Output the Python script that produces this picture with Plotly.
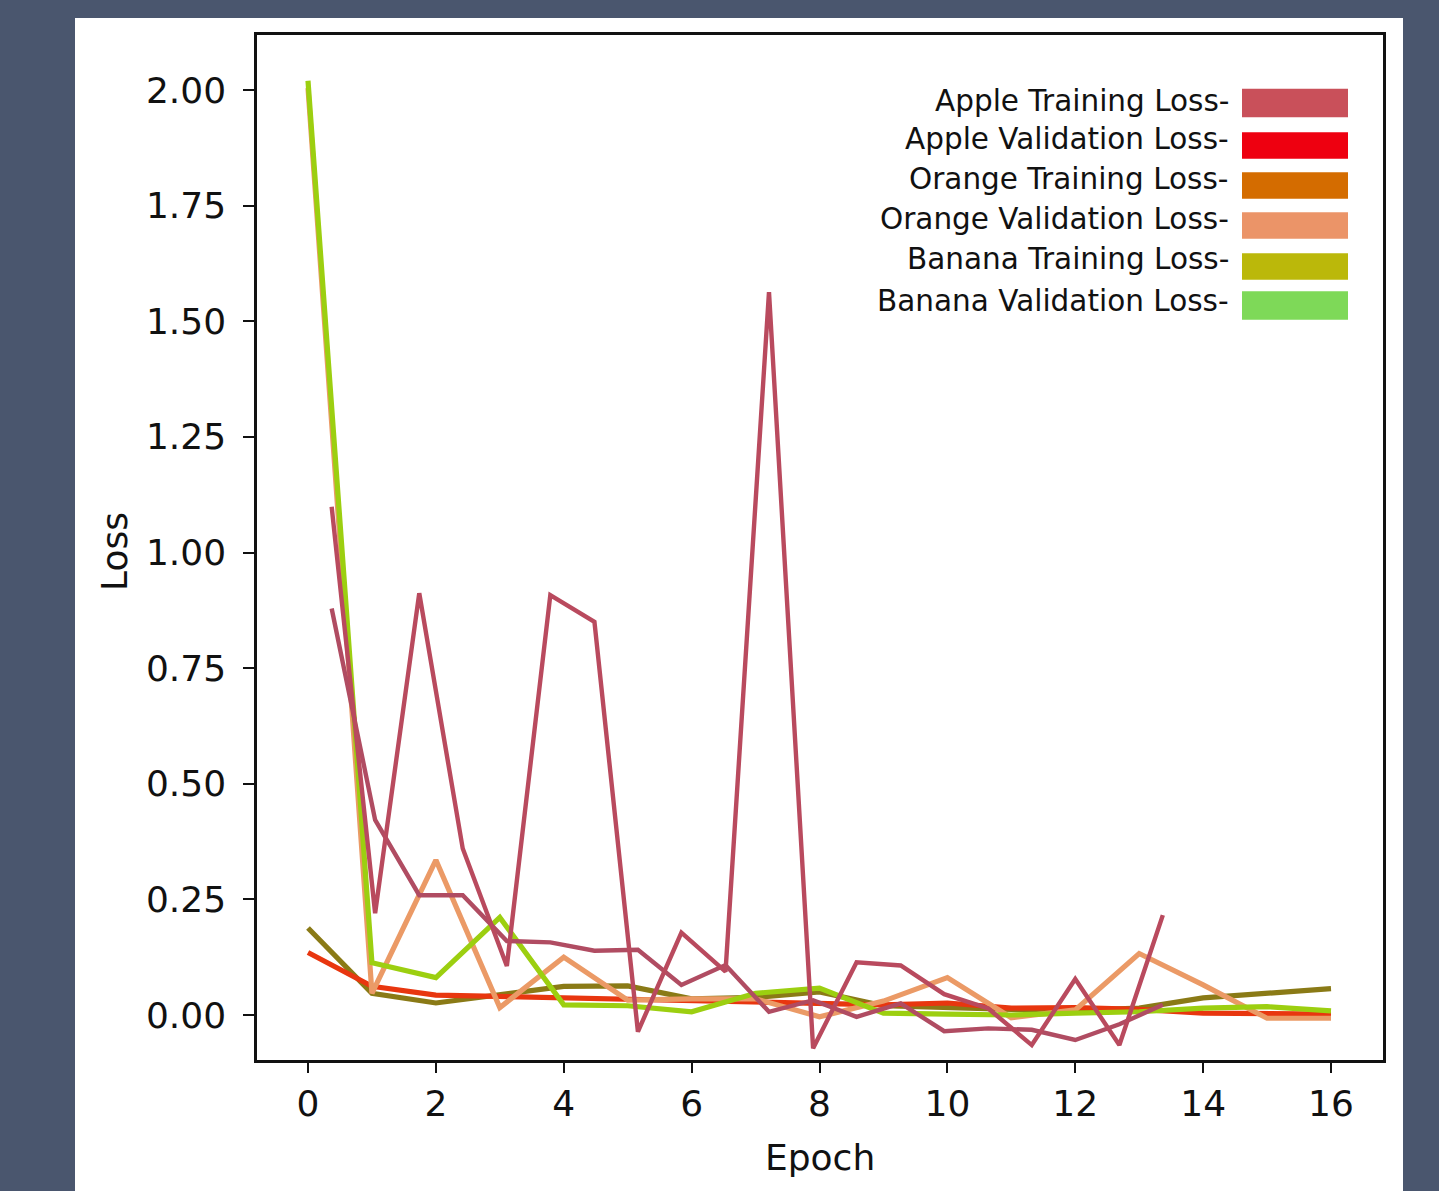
import plotly.graph_objects as go

# ---------------- data ----------------
epochs = [0, 1, 2, 3, 4, 5, 6, 7, 8, 9, 10, 11, 12, 13, 14, 15, 16]

apple_val = [0.135, 0.062, 0.043, 0.040, 0.038, 0.036, 0.033, 0.030, 0.025, 0.022,
             0.026, 0.015, 0.016, 0.012, 0.004, 0.003, 0.002]
banana_train = [0.188, 0.047, 0.026, 0.045, 0.062, 0.063, 0.035, 0.038, 0.050, 0.020,
                0.015, 0.012, 0.010, 0.015, 0.037, 0.047, 0.057]
banana_val = [2.02, 0.113, 0.081, 0.211, 0.022, 0.020, 0.007, 0.047, 0.058, 0.004,
              0.002, 0.000, 0.004, 0.007, 0.015, 0.018, 0.009]
orange_val = [2.004, 0.047, 0.335, 0.016, 0.125, 0.032, 0.035, 0.035, -0.004, 0.030,
              0.081, -0.006, 0.011, 0.133, 0.065, -0.007, -0.007]

train_epochs = [0.37, 1.05, 1.74, 2.42, 3.11, 3.79, 4.48, 5.16, 5.84, 6.53,
                7.21, 7.90, 8.58, 9.27, 9.95, 10.64, 11.32, 12.00, 12.69, 13.37]
apple_train = [1.099, 0.220, 0.912, 0.360, 0.106, 0.908, 0.850, -0.036, 0.178, 0.094,
               1.563, -0.072, 0.114, 0.107, 0.045, 0.014, -0.065, 0.078, -0.065, 0.216]
orange_train = [0.879, 0.422, 0.259, 0.259, 0.160, 0.157, 0.139, 0.141, 0.065, 0.108,
                0.007, 0.032, -0.004, 0.025, -0.035, -0.029, -0.032, -0.054, -0.020, 0.022]

x_ticks = [0, 2, 4, 6, 8, 10, 12, 14, 16]
y_ticks = [0.00, 0.25, 0.50, 0.75, 1.00, 1.25, 1.50, 1.75, 2.00]

legend_labels = ["Apple Training Loss-", "Apple Validation Loss-", "Orange Training Loss-",
                 "Orange Validation Loss-", "Banana Training Loss-", "Banana Validation Loss-"]
legend_colors = ["#c9505a", "#ee0010", "#d46c00", "#eb9468", "#bbb80a", "#7ed958"]

# ---------------- figure ----------------
W, H = 1439, 1191
L, R, T, B = 257, 1439 - 1383, 35, 1191 - 1060
pw, ph = W - L - R, H - T - B

fig = go.Figure()

lw = 5.2
fig.add_trace(go.Scatter(x=epochs, y=banana_train, mode="lines",
                         line=dict(color="#8a7a16", width=lw), showlegend=False))
fig.add_trace(go.Scatter(x=epochs, y=apple_val, mode="lines",
                         line=dict(color="#e8360f", width=lw), showlegend=False))
fig.add_trace(go.Scatter(x=epochs, y=orange_val, mode="lines",
                         line=dict(color="#eb9a66", width=lw), showlegend=False))
fig.add_trace(go.Scatter(x=epochs, y=banana_val, mode="lines",
                         line=dict(color="#9ccf10", width=lw), showlegend=False))
fig.add_trace(go.Scatter(x=train_epochs, y=orange_train, mode="lines",
                         line=dict(color="#b04c62", width=4.4), showlegend=False))
fig.add_trace(go.Scatter(x=train_epochs, y=apple_train, mode="lines",
                         line=dict(color="#b94a5e", width=4.4), showlegend=False))


def px_to_paper_x(px):
    return (px - L) / pw


def px_to_paper_y(py):
    return (H - B - py) / ph


# white panel behind the axes
shapes = [dict(type="rect", xref="paper", yref="paper", layer="below",
               x0=px_to_paper_x(75), x1=px_to_paper_x(1403),
               y0=px_to_paper_y(1195), y1=px_to_paper_y(18),
               fillcolor="white", line=dict(width=0))]

annotations = []
# custom legend
row_centers = [103, 145.5, 185.5, 225.5, 266.5, 305.5]
row_heights = [28.5, 26.5, 26.5, 26.5, 26.5, 28.5]
text_centers = [101, 139, 179, 219, 259, 301]
for lab, col, yc, hh, ty in zip(legend_labels, legend_colors, row_centers, row_heights, text_centers):
    shapes.append(dict(type="rect", xref="paper", yref="paper", layer="above",
                       x0=px_to_paper_x(1242), x1=px_to_paper_x(1348),
                       y0=px_to_paper_y(yc + hh / 2), y1=px_to_paper_y(yc - hh / 2),
                       fillcolor=col, line=dict(width=0)))
    annotations.append(dict(xref="paper", yref="paper", x=px_to_paper_x(1231),
                            y=px_to_paper_y(ty), xanchor="right", yanchor="middle",
                            text=lab, showarrow=False,
                            font=dict(family="DejaVu Sans", size=29.5, color="#111")))

# axis titles
annotations.append(dict(xref="paper", yref="paper", x=px_to_paper_x(820), y=px_to_paper_y(1157),
                        xanchor="center", yanchor="middle", text="Epoch", showarrow=False,
                        font=dict(family="DejaVu Sans", size=36, color="#111")))
annotations.append(dict(xref="paper", yref="paper", x=px_to_paper_x(114), y=px_to_paper_y(552),
                        xanchor="center", yanchor="middle", text="Loss", showarrow=False,
                        textangle=-90,
                        font=dict(family="DejaVu Sans", size=36, color="#111")))

x0_pix, x16_pix = 308, 1331
ux = (x16_pix - x0_pix) / 16.0
xr = [(257 - x0_pix) / ux, (1383 - x0_pix) / ux]
y0_pix, y2_pix = 1015, 90
uy = (y0_pix - y2_pix) / 2.0
yr = [(y0_pix - 1060) / uy, (y0_pix - 35) / uy]

fig.update_layout(
    width=W, height=H,
    margin=dict(l=L, r=R, t=T, b=B, pad=0),
    paper_bgcolor="#4a566e",
    plot_bgcolor="white",
    shapes=shapes,
    annotations=annotations,
    xaxis=dict(range=xr, tickvals=x_ticks, ticktext=[str(v) for v in x_ticks],
               showgrid=False, zeroline=False, showline=True, linecolor="#111",
               linewidth=2.5, mirror=True, ticks="outside", ticklen=10, tickwidth=2,
               tickcolor="#111", ticklabelstandoff=0,
               tickfont=dict(family="DejaVu Sans", size=36, color="#111")),
    yaxis=dict(range=yr, tickvals=y_ticks, ticktext=[f"{v:.2f}" for v in y_ticks],
               showgrid=False, zeroline=False, showline=True, linecolor="#111",
               linewidth=2.5, mirror=True, ticks="outside", ticklen=11, tickwidth=2,
               tickcolor="#111", ticklabelstandoff=10,
               tickfont=dict(family="DejaVu Sans", size=36, color="#111")),
)

fig.write_html("out.html", config={"displayModeBar": False},
               post_script="document.body.style.margin='0';")
